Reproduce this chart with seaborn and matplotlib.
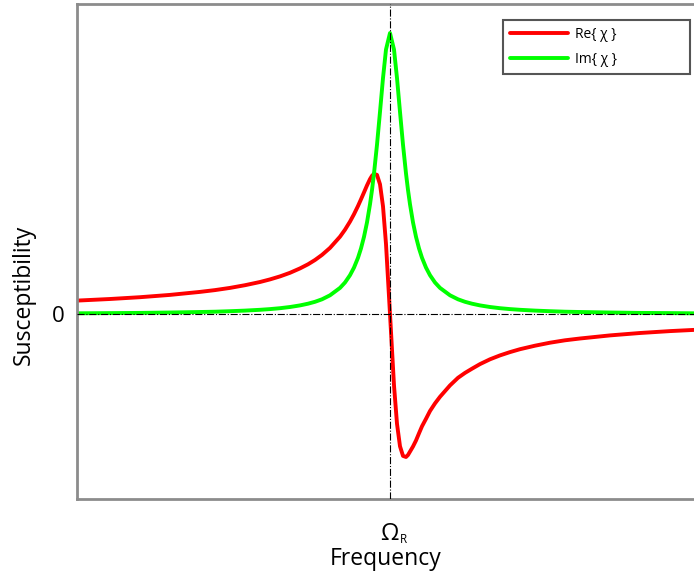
import numpy as np
import pandas as pd
import matplotlib
matplotlib.use("Agg")
import matplotlib.pyplot as plt
import seaborn as sns

# Frequency offset from the resonance Omega_R (arbitrary units)
freq = [-3.13, -2.8, -2.5, -2.2, -1.9, -1.75, -1.6, -1.45, -1.3, -1.2, -1.1, -1.0, -0.9, -0.82,
        -0.75, -0.68, -0.6, -0.5, -0.45, -0.4, -0.36, -0.32, -0.29, -0.26, -0.23, -0.2, -0.18,
        -0.16, -0.13, -0.1, -0.07, -0.04,
        0.0,
        0.04, 0.07, 0.1, 0.13, 0.16, 0.18, 0.2, 0.23, 0.26, 0.29, 0.32, 0.36, 0.4, 0.45, 0.5,
        0.6, 0.68, 0.75, 0.82, 0.9, 1.0, 1.1, 1.2, 1.3, 1.45, 1.6, 1.75, 1.9, 2.2, 2.5, 2.8, 3.04]
re_chi = [0.134, 0.150, 0.168, 0.191, 0.221, 0.239, 0.261, 0.288, 0.320, 0.346, 0.376, 0.412,
          0.456, 0.497, 0.540, 0.591, 0.661, 0.773, 0.843, 0.924, 0.998, 1.080, 1.147, 1.216,
          1.286, 1.349, 1.382, 1.402, 1.391, 1.297, 1.077, 0.700,
          0.0,
          -0.714, -1.098, -1.323, -1.419, -1.430, -1.410, -1.376, -1.325, -1.265, -1.193, -1.123,
          -1.048, -0.970, -0.894, -0.828, -0.714, -0.638, -0.589, -0.547, -0.501, -0.453, -0.414,
          -0.381, -0.352, -0.317, -0.287, -0.263, -0.245, -0.214, -0.190, -0.171, -0.159]
im_chi = [0.007, 0.009, 0.011, 0.015, 0.020, 0.023, 0.028, 0.034, 0.042, 0.049, 0.058, 0.070,
          0.086, 0.103, 0.122, 0.147, 0.187, 0.261, 0.315, 0.388, 0.464, 0.562, 0.656, 0.772,
          0.916, 1.097, 1.240, 1.405, 1.693, 2.021, 2.359, 2.645,
          2.810,
          2.645, 2.359, 2.021, 1.693, 1.405, 1.240, 1.097, 0.916, 0.772, 0.656, 0.562, 0.464,
          0.388, 0.315, 0.261, 0.187, 0.147, 0.122, 0.103, 0.086, 0.070, 0.058, 0.049, 0.042,
          0.034, 0.028, 0.023, 0.020, 0.015, 0.011, 0.009, 0.007]
series_names = ["Re{ χ }", "Im{ χ }"]
series_colors = ["#ff0000", "#00ff00"]
y_tick_labels = ["0"]
x_label = "Frequency"
y_label = "Susceptibility"

sns.set_style("white")
plt.rcParams["font.family"] = ["Open Sans", "DejaVu Sans"]
plt.rcParams["text.color"] = "black"
plt.rcParams["axes.labelcolor"] = "black"
plt.rcParams["xtick.color"] = "black"
plt.rcParams["ytick.color"] = "black"

df = pd.DataFrame({
    "freq": freq + freq,
    "chi": re_chi + im_chi,
    "series": [series_names[0]] * len(freq) + [series_names[1]] * len(freq),
})

fig = plt.figure(figsize=(6.94, 5.77), dpi=100)
ax = fig.add_axes([77 / 694, (577 - 499) / 577, 617 / 694, 495 / 577])

sns.lineplot(data=df, x="freq", y="chi", hue="series", palette=series_colors,
             linewidth=2.8, ax=ax, estimator=None, legend=False)

ax.set_xlim(-3.13, 3.04)
ax.set_ylim(-1.85, 3.10)

ax.axhline(0, color="black", lw=0.8, ls="-.", zorder=5)
ax.axvline(0, color="black", lw=0.8, ls="-.", zorder=5)

for side in ["left", "bottom", "top"]:
    ax.spines[side].set_color("#8c8c8c")
    ax.spines[side].set_linewidth(2)
ax.spines["right"].set_visible(False)

ax.set_xticks([])
ax.set_yticks([0])
ax.set_yticklabels(y_tick_labels, fontsize=16, color="black")
ax.tick_params(axis="y", length=0, pad=9)

ax.set_xlabel(x_label, fontsize=16.5, color="black")
ax.xaxis.label.set_verticalalignment("baseline")
ax.xaxis.set_label_coords(0.5, -0.1333)
ax.set_ylabel(y_label, fontsize=16.5, color="black")
ax.yaxis.label.set_verticalalignment("baseline")
ax.yaxis.set_label_coords(-0.076, 0.412)

# Omega_R label under the resonance
ax.annotate("Ω", xy=(0, 0), xycoords=("data", "axes fraction"),
            xytext=(-1, -41), textcoords="offset pixels",
            ha="center", va="baseline", fontsize=17, color="black")
ax.annotate("R", xy=(0, 0), xycoords=("data", "axes fraction"),
            xytext=(13, -44), textcoords="offset pixels",
            ha="center", va="baseline", fontsize=8.5, color="black")

handles = [plt.Line2D([], [], color=c, lw=2.8) for c in series_colors]
leg = ax.legend(handles, series_names, loc="upper left",
                bbox_to_anchor=(0.6904, 0.5, 0.303, 0.468), mode="expand",
                borderaxespad=0, fontsize=10, handlelength=4.17, handletextpad=0.5,
                fancybox=False, framealpha=1, edgecolor="#555555",
                borderpad=0.5, labelspacing=0.72)
leg.get_frame().set_linewidth(1.5)
for t in leg.get_texts():
    t.set_color("black")

fig.savefig("out.png", dpi=100)
